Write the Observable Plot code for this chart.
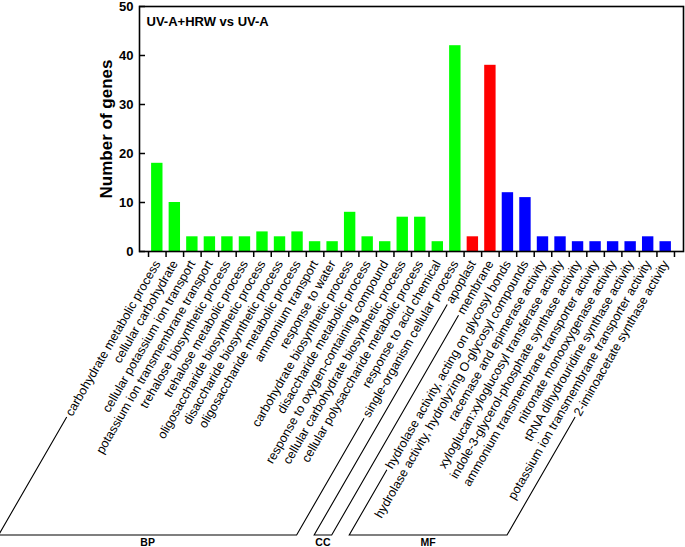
<!DOCTYPE html>
<html><head><meta charset="utf-8">
<script src="https://cdn.jsdelivr.net/npm/d3@7"></script>
<script src="https://cdn.jsdelivr.net/npm/@observablehq/plot@0.6"></script>
<style>body{margin:0;background:#fff;overflow:hidden} svg{display:block}</style>
</head><body><div id="chart"></div>
<script>
const bpTerms = [
  "carbohydrate metabolic process",
  "cellular carbohydrate",
  "cellular potassium ion transport",
  "potassium ion transmembrane transport",
  "trehalose biosynthetic process",
  "trehalose metabolic process",
  "oligosaccharide biosynthetic process",
  "disaccharide biosynthetic process",
  "oligosaccharide metabolic process",
  "ammonium transport",
  "response to water",
  "carbohydrate biosynthetic process",
  "disaccharide metabolic process",
  "response to oxygen-containing compound",
  "cellular carbohydrate biosynthetic process",
  "cellular polysaccharide metabolic process",
  "response to acid chemical",
  "single-organism cellular process"
];
const bpCounts = [18, 10, 3, 3, 3, 3, 4, 3, 4, 2, 2, 8, 3, 2, 7, 7, 2, 42];
const ccTerms = ["apoplast", "membrane"];
const ccCounts = [3, 38];
const mfTerms = [
  "hydrolase activity, acting on glycosyl bonds",
  "hydrolase activity, hydrolyzing O-glycosyl compounds",
  "racemase and epimerase activity",
  "xyloglucan:xyloglucosyl transferase activity",
  "indole-3-glycerol-phosphate synthase activity",
  "ammonium transmembrane transporter activity",
  "nitronate monooxygenase activity",
  "tRNA dihydrouridine synthase activity",
  "potassium ion transmembrane transporter activity",
  "2-iminoacetate synthase activity"
];
const mfCounts = [12, 11, 3, 3, 2, 2, 2, 2, 3, 2];
const groupNames = ["BP", "CC", "MF"];
const groupColors = ["#00ff00", "#ff0000", "#0000ff"];
const yTicks = [0, 10, 20, 30, 40, 50];
const chartTitle = "UV-A+HRW vs UV-A";
const yLabel = "Number of genes";

const groupsTerms = [bpTerms, ccTerms, mfTerms];
const groupsCounts = [bpCounts, ccCounts, mfCounts];
const data = [];
groupsTerms.forEach((terms, g) => terms.forEach((t, i) => data.push({term: t, count: groupsCounts[g][i], group: groupNames[g]})));
const order = data.map(d => d.term);

const W = 685, H = 547, mL = 139, mR = 2, mT = 6, mB = 296;
const pIn = 0.35, pOut = 0.69;
const step = (W - mL - mR) / (order.length - pIn + 2 * pOut);
const angle = -60;
const labelPad = 10;
const labelSize = 12.5;
const font = "'Liberation Sans', Arial, sans-serif";

const chart = Plot.plot({
  width: W, height: H,
  marginLeft: mL, marginRight: mR, marginTop: mT, marginBottom: mB,
  style: {fontFamily: font, background: "#fff", color: "#000", overflow: "visible"},
  x: {domain: order, paddingInner: pIn, paddingOuter: pOut, round: false, axis: null},
  y: {domain: [0, 50], axis: null},
  color: {domain: groupNames, range: groupColors},
  marks: [
    Plot.barY(data, {x: "term", y: "count", fill: "group"}),
    Plot.axisY({ticks: yTicks, tickSize: 6, fill: "none", dx: 6, strokeWidth: 1.5, label: null}),
    Plot.axisY({ticks: yTicks, tickSize: 0, tickPadding: 6, fontSize: 13, fontWeight: "bold", label: null}),
    Plot.axisX({tickSize: 6, fill: "none", dx: -step / 2, strokeWidth: 1.5, label: null}),
    Plot.axisX({ticks: [order[order.length - 1]], tickSize: 6, fill: "none", dx: step / 2, strokeWidth: 1.5, label: null}),
    Plot.axisX({tickSize: 0, tickPadding: labelPad, tickRotate: angle, fontSize: labelSize, label: null}),
    Plot.frame({strokeWidth: 1.6}),
    Plot.text([chartTitle], {frameAnchor: "top-left", dx: 7, dy: 15, textAnchor: "start", lineAnchor: "middle", fontSize: 13, fontWeight: "bold"}),
    Plot.text([yLabel], {frameAnchor: "left", dx: -33, rotate: -90, textAnchor: "middle", lineAnchor: "middle", fontSize: 17, fontWeight: "bold"})
  ]
});
document.getElementById("chart").appendChild(chart);

// group brackets, derived from the x scale and label geometry
const xs = chart.scale("x");
const bw = xs.bandwidth;
const ctx = document.createElement("canvas").getContext("2d");
ctx.font = labelSize + "px 'Liberation Sans'";
const th = -angle * Math.PI / 180;
const c = Math.cos(th), s = Math.sin(th);
const y0 = H - mB + labelPad;
const yBase = H - 12;
const gap = 3;
const svg = d3.select(chart);
const g = svg.append("g").attr("fill", "none").attr("stroke", "#000").attr("stroke-width", 1.1);
function endPts(term) {
  const xc = xs.apply(term) + bw / 2;
  const L = ctx.measureText(term).width + gap;
  return {top: [xc - L * c, y0 + L * s], bot: [xc - (yBase - y0) * c / s, yBase]};
}
groupsTerms.forEach((terms, i) => {
  const a = endPts(terms[0]);
  const b = endPts(terms[terms.length - 1]);
  g.append("path").attr("d", d3.line()([a.top, a.bot, b.bot, b.top]));
  svg.append("text")
    .attr("x", (a.bot[0] + b.bot[0]) / 2)
    .attr("y", yBase + 11)
    .attr("text-anchor", "middle")
    .attr("font-size", 10.5)
    .attr("font-weight", "bold")
    .attr("font-family", font)
    .attr("fill", "#000")
    .text(groupNames[i]);
});
</script>
</body></html>
